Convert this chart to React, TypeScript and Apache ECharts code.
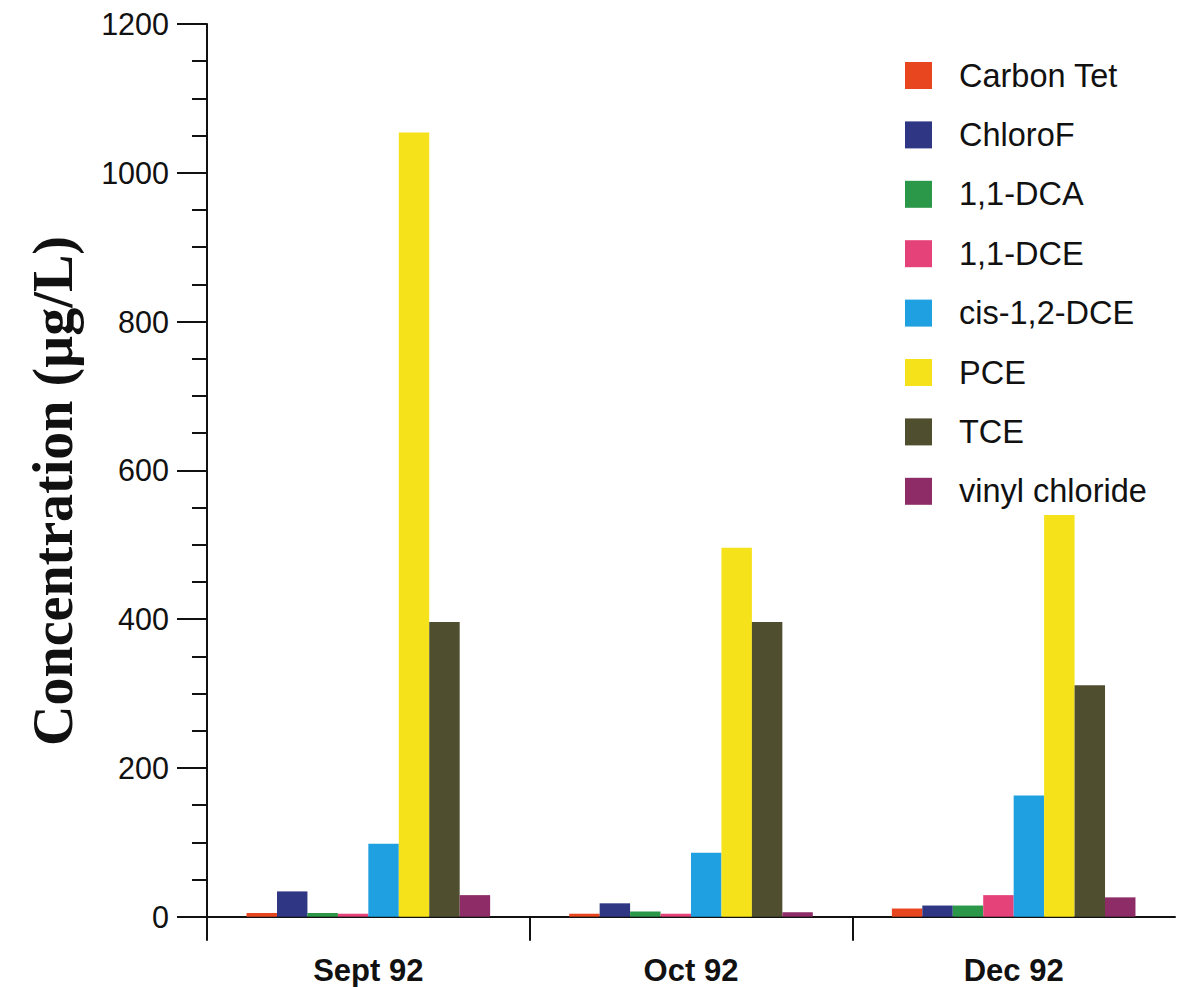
import React, { useEffect, useRef } from "react";
import * as echarts from "echarts";

const categories = ["Sept 92", "Oct 92", "Dec 92"];
const seriesNames = [
  "Carbon Tet",
  "ChloroF",
  "1,1-DCA",
  "1,1-DCE",
  "cis-1,2-DCE",
  "PCE",
  "TCE",
  "vinyl chloride",
];
const carbonTet = [5, 4, 11];
const chloroF = [34, 18, 15];
const dca11 = [5, 7, 15];
const dce11 = [4, 4, 29];
const cisDce = [98, 86, 163];
const pce = [1054, 496, 540];
const tce = [396, 396, 311];
const vinylChloride = [29, 6, 26];
const yTicks = [0, 200, 400, 600, 800, 1000, 1200];
// category boundaries that carry a divider tick (the right end has none)
const dividerTicks = [0, 1, 2];

const seriesValues = [carbonTet, chloroF, dca11, dce11, cisDce, pce, tce, vinylChloride];
const colors = [
  "#e8461f",
  "#2f3784",
  "#2b9748",
  "#e6427a",
  "#1fa0e0",
  "#f6e21a",
  "#4f4f30",
  "#8e2c68",
];

export default function App() {
  const ref = useRef<HTMLDivElement>(null);
  useEffect(() => {
    if (!ref.current) return;
    const chart = echarts.init(ref.current, undefined, { renderer: "svg" });
    chart.setOption({
      animation: false,
      backgroundColor: "#ffffff",
      grid: { left: 207, right: 2, top: 24, bottom: 70.3, containLabel: false },
      legend: {
        orient: "vertical",
        left: 905,
        top: 59,
        padding: 0,
        itemWidth: 27,
        itemHeight: 27,
        itemGap: 26.4,
        icon: "rect",
        data: seriesNames,
        textStyle: {
          fontFamily: "Liberation Sans",
          fontSize: 32.5,
          color: "#111",
          padding: [0, 0, 0, 22],
        },
      },
      xAxis: [
        {
          type: "category",
          data: categories,
          position: "bottom",
          axisLine: { show: true, lineStyle: { color: "#111", width: 2 } },
          axisTick: { show: false },
          axisLabel: {
            margin: 38,
            fontFamily: "Liberation Sans",
            fontWeight: "bold",
            fontSize: 31,
            color: "#111",
          },
          splitLine: { show: false },
        },
        {
          type: "value",
          position: "bottom",
          min: 0,
          max: categories.length,
          interval: 1,
          axisLine: { show: false },
          axisTick: {
            show: true,
            length: 24,
            inside: false,
            customValues: dividerTicks,
            lineStyle: { color: "#111", width: 2 },
          },
          axisLabel: { show: false },
          splitLine: { show: false },
        },
      ],
      yAxis: {
        type: "value",
        min: 0,
        max: 1200,
        interval: 200,
        axisLine: { show: true, lineStyle: { color: "#111", width: 2 } },
        axisTick: { show: true, length: 30, inside: false, lineStyle: { color: "#111", width: 2 } },
        minorTick: { show: true, splitNumber: 4, length: 15, lineStyle: { color: "#111", width: 2 } },
        axisLabel: {
          margin: 38,
          fontFamily: "Liberation Sans",
          fontSize: 30.5,
          color: "#111",
          formatter: (v: number) => (yTicks.includes(v) ? String(v) : ""),
        },
        splitLine: { show: false },
      },
      graphic: [
        {
          type: "text",
          x: 53,
          y: 491,
          rotation: Math.PI / 2,
          style: {
            text: "Concentration (µg/L)",
            fontFamily: "Liberation Serif",
            fontWeight: "bold",
            fontSize: 56,
            fill: "#111",
            textAlign: "center",
            textVerticalAlign: "middle",
          },
        },
      ],
      series: seriesNames.map((name, i) => ({
        name,
        type: "bar",
        xAxisIndex: 0,
        data: seriesValues[i],
        barGap: "0%",
        barCategoryGap: "24.5%",
        itemStyle: { color: colors[i] },
      })),
    });
    return () => chart.dispose();
  }, []);
  return (
    <div
      ref={ref}
      style={{ position: "absolute", left: 0, top: 0, width: 1177, height: 987 }}
    />
  );
}
